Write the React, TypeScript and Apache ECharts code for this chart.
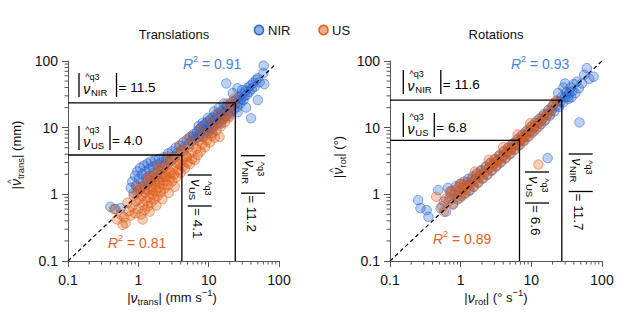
import React, { useEffect, useRef } from "react";
import * as echarts from "echarts";

// ---------- data ----------
const PANEL_TITLES = ["Translations", "Rotations"];
const SERIES_NAMES = ["NIR", "US"];
const R2_NIR = ["0.91", "0.93"];
const R2_US = ["0.81", "0.89"];
// q3 threshold corners [x, y]
const Q3_NIR = [[23.9, 23.6], [27.0, 25.9]];
const Q3_US = [[4.16, 3.89], [6.8, 6.45]];
// annotation values: [horizontal label, vertical label]
const LABEL_NIR = [["11.5", "11.2"], ["11.6", "11.7"]];
const LABEL_US = [["4.0", "4.1"], ["6.8", "6.6"]];
const DIAG_END = [88, 100];
const MINOR_TICKS = [0.2, 0.3, 0.4, 0.5, 0.6, 0.7, 0.8, 0.9, 2, 3, 4, 5, 6, 7, 8, 9, 20, 30, 40, 50, 60, 70, 80, 90];

const TRANS_NIR = [
  [0.4, 0.65], [0.47, 0.6], [0.56, 0.62],
  [0.78, 1.25], [0.82, 1.55], [0.86, 1.05], [0.9, 1.9], [0.93, 1.35], [0.97, 2.2], [1.0, 1.15], [1.02, 1.7], [1.06, 2.5], [1.1, 1.3], [1.12, 2.0], [1.16, 1.55], [1.2, 2.7], [1.23, 1.2], [1.27, 2.2], [1.3, 1.75], [1.35, 2.9], [1.38, 1.45], [1.42, 2.4], [1.47, 1.9], [1.5, 3.1], [1.55, 1.6], [1.6, 2.6], [1.66, 2.1], [1.72, 3.2], [1.78, 1.8], [1.85, 2.8], [1.9, 2.3], [1.98, 3.4], [2.05, 2.0], [2.12, 3.0], [2.2, 2.5], [2.3, 3.6], [2.4, 2.8], [2.5, 3.3],
  [2.65, 4.1], [2.8, 3.2], [3.0, 4.4], [3.2, 3.7], [3.4, 5.0], [3.6, 4.2], [3.85, 5.4], [4.1, 4.6], [4.35, 6.0], [4.6, 5.2], [4.9, 6.6], [5.2, 5.7], [5.5, 7.3], [5.8, 6.3], [6.1, 8.0], [6.4, 6.9],
  [6.8, 8.6], [7.0, 7.2], [7.3, 9.4], [7.5, 8.0], [7.8, 10.0], [8.0, 7.4], [8.3, 9.0], [8.5, 10.8], [8.8, 8.2], [9.1, 11.5], [9.3, 9.6], [9.6, 12.3], [9.9, 8.9], [10.2, 10.8], [10.5, 13.2], [10.8, 9.7], [11.1, 12.0], [11.4, 14.2], [11.8, 10.6], [12.2, 13.0], [12.6, 15.3], [13.0, 11.4], [13.4, 14.0], [13.8, 16.5], [14.2, 12.3], [14.7, 15.2], [15.2, 17.8], [15.7, 13.4], [16.2, 16.5], [16.7, 19.3], [17.2, 14.6], [17.8, 18.0], [18.4, 21.0], [19.0, 16.0], [19.6, 19.5], [20.2, 22.8], [20.8, 17.5], [21.5, 21.0], [22.2, 24.6], [23.0, 19.0], [23.8, 22.8], [24.6, 26.5], [25.5, 20.5], [26.4, 24.5], [27.3, 29.0], [28.2, 23.0], [29.2, 27.0], [30.2, 32.0], [31.3, 26.0], [32.5, 30.0], [33.7, 36.0], [35.0, 31.0], [36.5, 40.0], [38.0, 34.5], [39.5, 43.0], [41.0, 38.0], [43.0, 47.0], [45.0, 41.0], [47.0, 52.0], [50.0, 55.0], [53.0, 48.0],
  [9.8, 14.0], [12.0, 17.5], [14.0, 19.8], [16.5, 23.0], [8.2, 11.8], [11.2, 8.4], [15.0, 11.6], [19.5, 15.0], [6.0, 7.4], [7.2, 10.6],
  [60.0, 66.0], [60.5, 85.0], [62.0, 45.0], [50.0, 26.0], [40.0, 13.8], [17.8, 46.0], [30.0, 36.6], [25.7, 17.0], [34.0, 20.0], [25.7, 39.0], [22.0, 33.0]
];

const TRANS_US = [
  [0.45, 0.6], [0.5, 0.42], [0.56, 0.5], [0.6, 0.35], [0.63, 0.45], [0.66, 0.37], [0.7, 0.75], [0.74, 0.56], [0.78, 0.48],
  [0.82, 0.66], [0.86, 0.95], [0.9, 0.52], [0.93, 0.78], [0.97, 1.05], [1.0, 0.6], [1.03, 0.85], [1.07, 1.2], [1.1, 0.5], [1.13, 0.95], [1.16, 0.7], [1.2, 1.35], [1.23, 0.58], [1.26, 1.05], [1.3, 0.8], [1.33, 1.5], [1.37, 0.66], [1.4, 1.15], [1.44, 0.9], [1.48, 1.65], [1.52, 0.75], [1.56, 1.28], [1.6, 1.0], [1.65, 1.85], [1.7, 0.85], [1.74, 1.42], [1.78, 1.12], [1.83, 2.05], [1.88, 0.95], [1.93, 1.6], [1.98, 1.25], [2.04, 2.3], [2.1, 1.08], [2.16, 1.8], [2.22, 1.4], [2.29, 2.55], [2.36, 1.22], [2.43, 2.0], [2.5, 1.58], [2.58, 2.85], [2.66, 1.38], [2.75, 2.25], [2.84, 1.78], [2.93, 3.2], [3.03, 1.58], [3.13, 2.55], [3.24, 2.0], [3.35, 3.6], [3.47, 1.8], [3.6, 2.9], [3.72, 2.3], [3.85, 4.0], [4.0, 2.1], [4.15, 3.3], [4.3, 2.65], [4.45, 4.5], [4.6, 2.45], [4.8, 3.7], [5.0, 3.0], [5.2, 5.1], [5.4, 2.85], [5.6, 4.2], [5.85, 3.4], [6.1, 5.7], [6.4, 3.3], [6.7, 4.8], [7.0, 3.9], [7.3, 6.4], [7.7, 4.4], [8.1, 5.6], [8.5, 7.3], [8.9, 5.1], [9.4, 6.5], [9.9, 8.4], [10.4, 6.0], [11.0, 7.6], [11.6, 9.8], [12.2, 7.1], [12.9, 9.0], [13.6, 11.5], [14.3, 7.3], [15.1, 10.5], [16.0, 13.4], [17.0, 12.0], [18.0, 15.5], [19.2, 14.0], [20.5, 18.0], [22.0, 21.5], [23.0, 27.5], [18.5, 23.0],
  [2.6, 3.7], [3.9, 5.3], [5.3, 7.0], [7.6, 9.4], [10.3, 12.5], [13.8, 16.5], [1.4, 1.9], [1.9, 2.6], [0.95, 1.3],
  [1.15, 0.42], [1.45, 0.55], [1.8, 0.68], [2.2, 0.85], [2.7, 1.05], [3.3, 1.3], [2.0, 1.55], [2.9, 2.1], [3.9, 2.8], [4.9, 3.6], [1.55, 1.2], [2.45, 1.85]
];

const ROT_NIR = [
  [0.25, 0.82], [0.27, 0.62], [0.33, 0.58], [0.35, 0.46], [0.48, 1.16], [0.52, 0.62], [0.58, 0.78], [0.62, 0.55], [0.66, 1.25],
  [0.7, 0.88], [0.74, 1.12], [0.78, 0.72], [0.82, 1.0], [0.86, 1.32], [0.9, 0.84], [0.94, 1.12], [0.98, 1.42], [1.02, 0.95], [1.07, 1.25], [1.12, 1.55], [1.17, 1.05], [1.22, 1.38], [1.28, 1.7], [1.34, 1.15], [1.4, 1.5], [1.47, 1.85], [1.54, 1.3], [1.61, 1.68], [1.69, 2.05], [1.77, 1.5], [1.86, 1.9], [1.95, 2.3], [2.05, 1.72], [2.15, 2.15], [2.26, 2.6], [2.37, 1.95], [2.49, 2.45], [2.61, 2.95], [2.74, 2.25], [2.88, 2.8], [3.02, 3.35], [3.17, 2.6], [3.33, 3.2], [3.5, 3.8], [3.67, 3.0], [3.85, 3.65], [4.05, 4.35], [4.25, 3.45], [4.46, 4.2], [4.68, 5.0], [4.92, 4.0], [5.17, 4.85], [5.43, 5.75], [5.7, 4.65], [5.98, 5.6], [6.28, 6.6], [6.6, 5.4], [6.93, 6.45], [7.27, 7.6], [7.64, 6.25], [8.02, 7.45], [8.42, 8.8], [8.84, 7.25], [9.28, 8.65], [9.75, 10.2], [10.2, 8.4], [10.7, 10.0], [11.3, 11.8], [11.8, 9.7], [12.4, 11.6], [13.0, 13.7], [13.7, 11.3], [14.4, 13.5], [15.1, 15.9], [15.8, 13.0], [16.6, 15.6], [17.5, 18.5], [18.3, 15.2], [19.2, 18.1], [20.2, 21.5], [21.2, 17.6], [22.3, 21.0], [23.4, 25.0], [24.5, 20.5], [25.8, 24.5], [27.0, 29.0], [28.4, 24.0], [29.8, 28.5], [31.3, 34.0], [32.8, 29.0], [34.5, 33.5], [36.0, 40.0], [38.0, 35.0], [40.0, 45.0], [42.0, 33.0], [44.0, 49.0], [37.0, 28.5],
  [48.0, 12.0], [17.0, 3.5], [61.0, 78.0], [76.0, 58.0], [56.0, 62.0], [66.0, 54.0], [47.0, 39.0], [28.5, 40.0], [33.5, 27.0], [24.0, 33.0], [52.0, 46.0], [30.0, 46.0]
];

const ROT_US = [
  [0.45, 0.92], [0.55, 0.66], [0.58, 0.55], [0.62, 0.86], [0.68, 0.78], [0.73, 1.02], [0.78, 0.7], [0.83, 1.15], [0.88, 0.92], [0.93, 1.28], [0.98, 0.88], [1.03, 1.12], [1.08, 1.4], [1.13, 1.0], [1.19, 1.25], [1.25, 1.52], [1.31, 1.12], [1.38, 1.4], [1.45, 1.7], [1.52, 1.3], [1.6, 1.58], [1.68, 1.92], [1.77, 1.5], [1.86, 1.82], [1.96, 2.25], [2.06, 1.75], [2.17, 2.1], [2.28, 2.55], [2.4, 2.0], [2.52, 2.45], [2.65, 2.95], [2.79, 2.32], [2.93, 2.82], [3.08, 3.4], [3.24, 2.7], [3.41, 3.25], [3.58, 3.9], [3.77, 3.1], [3.96, 3.7], [4.17, 4.5], [4.38, 3.55], [4.61, 4.3], [4.85, 5.15], [5.1, 4.1], [5.36, 4.95], [5.64, 5.9], [5.93, 4.75], [6.24, 5.7], [6.56, 6.8], [6.9, 5.5], [7.26, 6.6], [7.63, 7.9], [8.03, 6.4], [8.45, 7.7], [8.9, 9.2], [9.35, 7.5], [9.85, 9.0], [10.4, 10.8], [10.9, 8.8], [11.5, 10.6], [12.1, 12.6], [12.6, 2.8], [12.8, 10.4], [13.5, 12.4], [14.3, 14.8], [15.2, 12.6], [16.2, 15.4], [17.3, 18.0], [18.5, 16.0], [19.8, 20.5], [21.0, 23.5], [22.5, 25.5],
  [1.0, 1.45], [1.6, 2.2], [2.5, 3.3], [4.0, 5.1], [6.4, 7.9], [9.6, 11.6], [0.7, 1.1], [3.2, 3.05], [5.0, 4.75], [7.6, 7.2]
];

// ---------- style ----------
const FONT = '"Liberation Sans", Arial, Helvetica, sans-serif';
const AXC = "#555";
const BLUE = "rgba(35,100,210,0.38)";
const BLUE_B = "rgba(30,90,205,0.7)";
const ORANGE = "rgba(224,90,20,0.38)";
const ORANGE_B = "rgba(220,85,20,0.7)";
const BLUE_TXT = "#4a82da";
const ORANGE_TXT = "#e2611f";

let measureCtx: CanvasRenderingContext2D | null = null;
function tw(t: string, size: number, italic = false) {
  if (!measureCtx) measureCtx = document.createElement("canvas").getContext("2d");
  measureCtx!.font = `${italic ? "italic " : ""}${size}px "Liberation Sans"`;
  return measureCtx!.measureText(t).width;
}

type Piece = { t: string; size: number; italic?: boolean; dy?: number; hat?: boolean };

function txt(x: number, y: number, t: string, size: number, fill: string, extra: any = {}) {
  return {
    type: "text",
    x,
    y,
    silent: true,
    style: { text: t, fontSize: size, fontFamily: FONT, fill, align: "left", verticalAlign: "middle", ...extra },
  };
}

function run(pieces: Piece[], x: number, y: number, color: string, align: "left" | "center", rotation = 0) {
  const widths = pieces.map((p) => tw(p.t, p.size, p.italic));
  const total = widths.reduce((a, b) => a + b, 0);
  let cx = align === "center" ? -total / 2 : 0;
  const children: any[] = [];
  pieces.forEach((p, i) => {
    children.push(txt(cx, p.dy || 0, p.t, p.size, color, { fontStyle: p.italic ? "italic" : "normal" }));
    if (p.hat) {
      children.push(txt(cx + widths[i] / 2 + 1, (p.dy || 0) - 5.5, "^", 9, color, { align: "center" }));
    }
    cx += widths[i];
  });
  return { type: "group", x, y, rotation, children };
}

function vline(x1: number, y1: number, x2: number, y2: number) {
  return { type: "line", silent: true, shape: { x1, y1, x2, y2 }, style: { stroke: "#000", lineWidth: 1.3 } };
}

function annot(ox: number, oy: number, sub: string, value: string, rotated: boolean) {
  const rb = sub === "NIR" ? 37.5 : 31;
  const children: any[] = [
    vline(0, 0, 0, 24),
    txt(6.2, 4, "^q3", 9, "#000"),
    txt(4.2, 15.5, "\u03bd", 14, "#000", { fontStyle: "italic" }),
    txt(12, 19.5, sub, 9.5, "#000"),
    vline(rb, 0, rb, 24),
    txt(rb + 2, 14, "= " + value, 13.5, "#000"),
  ];
  return { type: "group", x: ox, y: oy, rotation: rotated ? -Math.PI / 2 : 0, children };
}

function minorSeries(gi: number, axis: "x" | "y") {
  return {
    type: "custom",
    xAxisIndex: gi,
    yAxisIndex: gi,
    clip: false,
    silent: true,
    z: 3,
    data: MINOR_TICKS.map((v) => (axis === "x" ? [v, 0.1] : [0.1, v])),
    renderItem: (_p: any, api: any) => {
      const p = api.coord([api.value(0), api.value(1)]);
      const shape =
        axis === "x"
          ? { x1: p[0], y1: p[1], x2: p[0], y2: p[1] + 3.5 }
          : { x1: p[0] - 3.5, y1: p[1], x2: p[0], y2: p[1] };
      return { type: "line", shape, style: { stroke: AXC, lineWidth: 1 } };
    },
  };
}

function axisDef(gi: number, margin: number) {
  return {
    gridIndex: gi,
    type: "log",
    logBase: 10,
    min: 0.1,
    max: 100,
    axisLine: { show: true, onZero: false, lineStyle: { color: AXC, width: 1 } },
    axisTick: { show: true, length: 6, lineStyle: { color: AXC, width: 1 } },
    minorTick: { show: false },
    splitLine: { show: false },
    axisLabel: { fontSize: 14, color: "#111", margin, fontFamily: FONT, formatter: (v: number) => String(Number(v.toPrecision(3))) },
  };
}

export default function App() {
  const ref = useRef<HTMLDivElement>(null);
  useEffect(() => {
    if (!ref.current) return;
    const chart = echarts.init(ref.current, undefined, { renderer: "svg" });
    const panels = [
      { nir: TRANS_NIR, us: TRANS_US },
      { nir: ROT_NIR, us: ROT_US },
    ];
    const series: any[] = [];
    panels.forEach((pd, gi) => {
      series.push({
        name: SERIES_NAMES[0], type: "scatter", xAxisIndex: gi, yAxisIndex: gi, data: pd.nir, symbol: "circle", symbolSize: 9.5, z: 2,
        itemStyle: { color: BLUE, borderColor: BLUE_B, borderWidth: 0.9 },
      });
      series.push({
        name: SERIES_NAMES[1], type: "scatter", xAxisIndex: gi, yAxisIndex: gi, data: pd.us, symbol: "circle", symbolSize: 9.5, z: 2,
        itemStyle: { color: ORANGE, borderColor: ORANGE_B, borderWidth: 0.9 },
      });
      series.push({
        type: "line", xAxisIndex: gi, yAxisIndex: gi, symbol: "none", silent: true, z: 5,
        data: [[0.1, 0.1], [DIAG_END[gi], DIAG_END[gi]]],
        lineStyle: { color: "#000", width: 1.2, type: [4, 3] },
      });
      [Q3_NIR[gi], Q3_US[gi]].forEach((q) => {
        series.push({
          type: "line", xAxisIndex: gi, yAxisIndex: gi, symbol: "none", silent: true, z: 6,
          data: [[0.1, q[1]], [q[0], q[1]], [q[0], 0.1]],
          lineStyle: { color: "#000", width: 1.3 },
        });
      });
      series.push(minorSeries(gi, "x"));
      series.push(minorSeries(gi, "y"));
    });

    const graphic: any[] = [
      txt(174, 34, PANEL_TITLES[0], 13, "#111", { align: "center" }),
      txt(496, 34, PANEL_TITLES[1], 13, "#111", { align: "center" }),
      { type: "circle", silent: true, shape: { cx: 259, cy: 30, r: 4.6 }, style: { fill: "rgba(35,100,210,0.5)", stroke: "#2a6ad6", lineWidth: 1.5 } },
      txt(268, 30.5, SERIES_NAMES[0], 13, "#111"),
      { type: "circle", silent: true, shape: { cx: 323.5, cy: 30, r: 4.6 }, style: { fill: "rgba(224,90,20,0.5)", stroke: "#e2611f", lineWidth: 1.5 } },
      txt(332, 30.5, SERIES_NAMES[1], 13, "#111"),
      // R^2
      run([{ t: "R", size: 14, italic: true }, { t: "2", size: 9, dy: -5 }, { t: " = " + R2_NIR[0], size: 14 }], 183, 63.5, BLUE_TXT, "left"),
      run([{ t: "R", size: 14, italic: true }, { t: "2", size: 9, dy: -5 }, { t: " = " + R2_US[0], size: 14 }], 108, 243, ORANGE_TXT, "left"),
      run([{ t: "R", size: 14, italic: true }, { t: "2", size: 9, dy: -5 }, { t: " = " + R2_NIR[1], size: 14 }], 511, 64, BLUE_TXT, "left"),
      run([{ t: "R", size: 14, italic: true }, { t: "2", size: 9, dy: -5 }, { t: " = " + R2_US[1], size: 14 }], 433, 239, ORANGE_TXT, "left"),
      // axis titles
      run([{ t: "|", size: 13 }, { t: "\u03bd", size: 14, italic: true }, { t: "trans", size: 9.5, dy: 4 }, { t: "| (mm s", size: 13 }, { t: "\u22121", size: 9.5, dy: -5 }, { t: ")", size: 13 }], 172, 297.5, "#111", "center"),
      run([{ t: "|", size: 13 }, { t: "\u03bd", size: 14, italic: true }, { t: "rot", size: 9.5, dy: 4 }, { t: "| (\u00b0 s", size: 13 }, { t: "\u22121", size: 9.5, dy: -5 }, { t: ")", size: 13 }], 496, 297.5, "#111", "center"),
      run([{ t: "|", size: 13 }, { t: "\u03bd", size: 14, italic: true, hat: true }, { t: "trans", size: 9.5, dy: 4 }, { t: "| (mm)", size: 13 }], 16, 155, "#111", "center", Math.PI / 2),
      run([{ t: "|", size: 13 }, { t: "\u03bd", size: 14, italic: true, hat: true }, { t: "rot", size: 9.5, dy: 4 }, { t: "| (\u00b0)", size: 13 }], 338, 157, "#111", "center", Math.PI / 2),
      // annotations
      annot(79, 73, "NIR", LABEL_NIR[0][0], false),
      annot(79, 126, "US", LABEL_US[0][0], false),
      annot(265, 155.7, "NIR", LABEL_NIR[0][1], true),
      annot(211.7, 175, "US", LABEL_US[0][1], true),
      annot(403.3, 70, "NIR", LABEL_NIR[1][0], false),
      annot(403.3, 113, "US", LABEL_US[1][0], false),
      annot(592.7, 154, "NIR", LABEL_NIR[1][1], true),
      annot(549, 172, "US", LABEL_US[1][1], true),
    ];

    chart.setOption({
      animation: false,
      backgroundColor: "#fff",
      textStyle: { fontFamily: FONT },
      grid: [
        { left: 68, top: 61, width: 211, height: 200 },
        { left: 390, top: 61, width: 212, height: 200 },
      ],
      xAxis: [axisDef(0, 12), axisDef(1, 12)],
      yAxis: [axisDef(0, 10), axisDef(1, 10)],
      series,
      graphic,
    });
    return () => chart.dispose();
  }, []);
  return <div ref={ref} style={{ position: "fixed", left: 0, top: 0, width: 627, height: 326 }} />;
}
